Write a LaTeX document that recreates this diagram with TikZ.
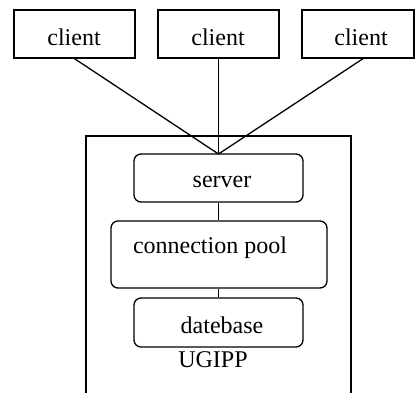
\documentclass[tikz,border=0pt]{standalone}
\usepackage{fontspec}
\setmainfont{Liberation Serif}
\begin{document}
\begin{tikzpicture}[x=1pt,y=-1pt,
  every node/.style={font=\fontsize{24}{28}\selectfont, inner sep=0pt},
  box/.style={draw, line width=1.3pt},
  rbox/.style={draw, line width=1.3pt, rounded corners=7pt},
  link/.style={line width=1.3pt}]
\useasboundingbox (0,0) rectangle (415,392);
\clip (0,0) rectangle (415,392);
% outer container
\draw[box] (86,136) rectangle (351,400);
% clients
\node[box, minimum width=121pt, minimum height=48pt] (c1) at (74.5,34) {};
\node[box, minimum width=121pt, minimum height=48pt] (c2) at (218.5,34) {};
\node[box, minimum width=112pt, minimum height=48pt] (c3) at (358,34) {};
\node (t1) at (74,37) {client};
\node (t2) at (218,37) {client};
\node (t3) at (361,37) {client};
% inner boxes
\node[rbox, minimum width=169pt, minimum height=48pt] (srv) at (218.5,178) {};
\node (tsrv) at (222,182) {server};
\node[rbox, minimum width=216pt, minimum height=67pt] (pool) at (219,254.5) {};
\node (tpool) at (210,248) {connection pool};
\node[rbox, minimum width=169pt, minimum height=49pt] (db) at (218.5,322.5) {};
\node (tdb) at (222,325) {datebase};
\node (lbl) at (213,360) {UGIPP};
% connectors
\coordinate (hub) at (218.5,154);
\draw[link] (c1.south) -- (hub);
\draw[link] (c2.south) -- (hub);
\draw[link] ([xshift=5pt]c3.south) -- (hub);
\draw[link] (srv.south) -- (pool.north -| srv.south);
\draw[link] (pool.south -| db.north) -- (db.north);
\end{tikzpicture}
\end{document}
